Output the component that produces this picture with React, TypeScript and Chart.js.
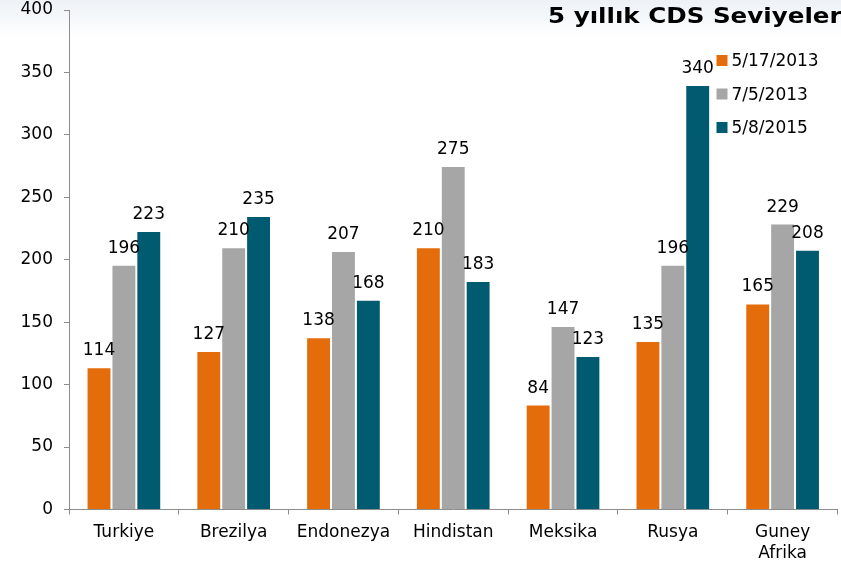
import { useEffect, useRef } from 'react';
import { Chart, registerables } from 'chart.js';

Chart.register(...registerables);

const categories: (string | string[])[] = ['Turkiye', 'Brezilya', 'Endonezya', 'Hindistan', 'Meksika', 'Rusya', ['Guney', 'Afrika']];
const seriesNames = ['5/17/2013', '7/5/2013', '5/8/2015'];
const cdsMay2013 = [114, 127, 138, 210, 84, 135, 165];
const cdsJul2013 = [196, 210, 207, 275, 147, 196, 229];
const cdsAug2015 = [223, 235, 168, 183, 123, 340, 208];
const seriesColors = ['#E46C0A', '#A6A6A6', '#005A70'];
const yMin = 0;
const yMax = 400;
const yStep = 50;
const titleText = '5 yıllık CDS Seviyeleri';

const FONT = 'DejaVu Sans';
const FS = 17;

const valueLabelPlugin = {
  id: 'valueLabels',
  afterDatasetsDraw(chart: any) {
    const ctx = chart.ctx;
    ctx.save();
    ctx.font = `${FS}px "${FONT}"`;
    ctx.fillStyle = '#000';
    ctx.textAlign = 'center';
    ctx.textBaseline = 'alphabetic';
    chart.data.datasets.forEach((ds: any, i: number) => {
      const meta = chart.getDatasetMeta(i);
      meta.data.forEach((el: any, j: number) => {
        ctx.fillText(String(ds.data[j]), el.x, el.y - 12);
      });
    });
    ctx.restore();
  },
};

const legendPlugin = {
  id: 'insideLegend',
  afterDraw(chart: any) {
    const ctx = chart.ctx;
    const area = chart.chartArea;
    const boxX = area.right - 121;
    const firstY = area.top + 51;
    const rowGap = 33.5;
    ctx.save();
    ctx.font = `${FS}px "${FONT}"`;
    ctx.textAlign = 'left';
    ctx.textBaseline = 'middle';
    chart.data.datasets.forEach((ds: any, i: number) => {
      const cy = firstY + i * rowGap;
      ctx.fillStyle = ds.backgroundColor;
      ctx.fillRect(boxX, cy - 6, 11, 11);
      ctx.fillStyle = '#000';
      ctx.fillText(ds.label, boxX + 15, cy + 1);
    });
    ctx.restore();
  },
};

const titlePlugin = {
  id: 'cutTitle',
  afterDraw(chart: any) {
    const ctx = chart.ctx;
    ctx.save();
    ctx.font = `bold 21px "${FONT}"`;
    ctx.fillStyle = '#000';
    ctx.textAlign = 'left';
    ctx.textBaseline = 'alphabetic';
    ctx.translate(548, 23);
    ctx.scale(1.17, 1);
    ctx.fillText(titleText, 0, 0);
    ctx.restore();
  },
};

export default function App() {
  const canvasRef = useRef<HTMLCanvasElement | null>(null);

  useEffect(() => {
    if (!canvasRef.current) return;
    const series = [cdsMay2013, cdsJul2013, cdsAug2015];
    const chart = new Chart(canvasRef.current, {
      type: 'bar',
      data: {
        labels: categories as any,
        datasets: series.map((d, i) => ({
          label: seriesNames[i],
          data: d,
          backgroundColor: seriesColors[i],
          borderColor: 'rgba(255,255,255,0.2)',
          borderWidth: 1,
          categoryPercentage: 0.68,
          barPercentage: 1,
        })),
      },
      options: {
        responsive: false,
        animation: false,
        layout: { padding: { top: 0, right: 3.5, left: 0, bottom: 0 } },
        plugins: {
          legend: { display: false },
          title: { display: false },
          tooltip: { enabled: false },
        },
        scales: {
          x: {
            grid: { offset: true, drawOnChartArea: false, tickLength: 5, color: '#8c8c8c', lineWidth: 1 },
            border: { color: '#8c8c8c', width: 1 },
            ticks: {
              color: '#000',
              font: { family: FONT, size: FS, lineHeight: 1.2 },
              padding: 8,
              maxRotation: 0,
              autoSkip: false,
            },
            afterFit: (s: any) => {
              s.height = 57.5;
            },
          },
          y: {
            min: yMin,
            max: yMax,
            ticks: {
              stepSize: yStep,
              color: '#000',
              font: { family: FONT, size: FS },
              padding: 11,
            },
            grid: { drawOnChartArea: false, tickLength: 5, color: '#8c8c8c', lineWidth: 1 },
            border: { color: '#8c8c8c', width: 1 },
            afterFit: (s: any) => {
              s.width = 69;
              s.paddingTop = 10;
              s.paddingBottom = 0;
            },
          },
        },
      },
      plugins: [valueLabelPlugin, legendPlugin, titlePlugin],
    });
    return () => chart.destroy();
  }, []);

  return (
    <div
      style={{
        position: 'fixed',
        left: 0,
        top: 0,
        width: 841,
        height: 567,
        background: 'linear-gradient(to bottom, #edf2f7 0px, #f6f9fb 20px, #ffffff 38px)',
        overflow: 'hidden',
      }}
    >
      <canvas ref={canvasRef} width={841} height={567} style={{ display: 'block', width: 841, height: 567 }} />
    </div>
  );
}
